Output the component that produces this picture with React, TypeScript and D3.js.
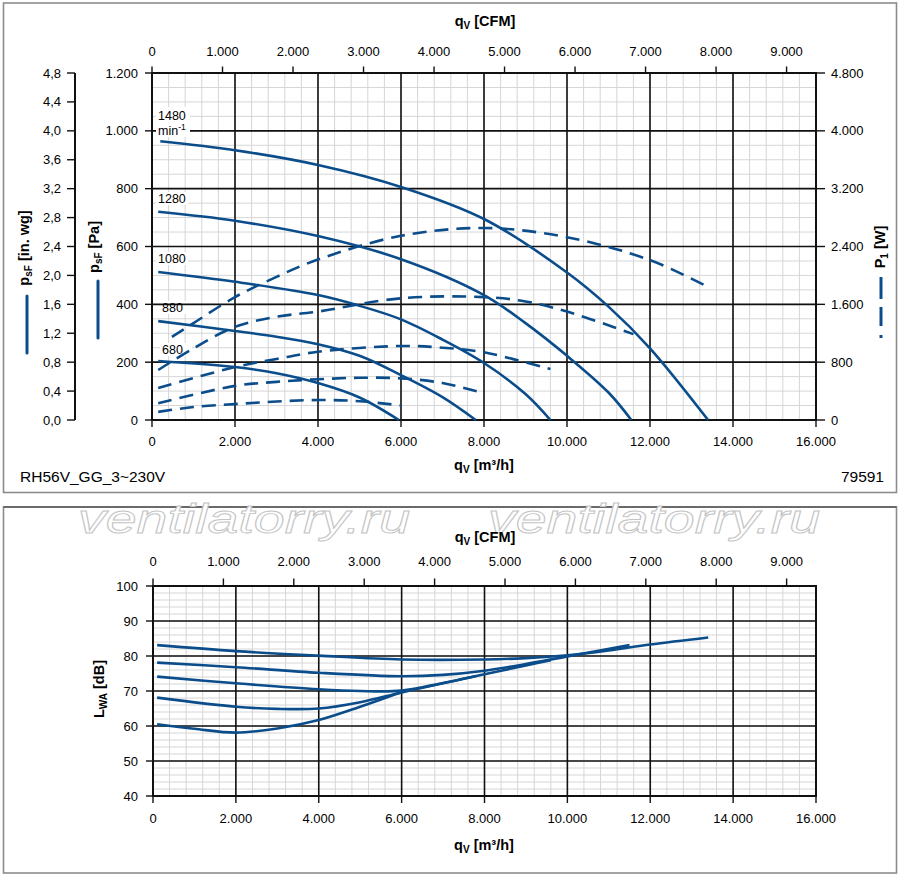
import React from 'react';
import * as d3 from 'd3';

const BLUE = '#0b4d8b';
const FONT = '"Liberation Sans", Arial, Helvetica, sans-serif';

// speed labels (min-1)
const speeds = ['1480', '1280', '1080', '880', '680'];

// static pressure p_sF [Pa] vs q_V [m³/h]
const press1480 = [[200, 964], [2000, 933], [4000, 882], [6000, 806], [8000, 695], [10000, 510], [11000, 392], [12000, 248], [13400, 0]];
const press1280 = [[150, 720], [2000, 689], [4000, 636], [6000, 556], [8000, 432], [9000, 335], [10000, 222], [11000, 95], [11550, 0]];
const press1080 = [[150, 512], [2000, 478], [4000, 432], [5000, 395], [6000, 348], [7000, 278], [8000, 197], [9000, 90], [9600, 0]];
const press880 = [[150, 342], [2000, 308], [3000, 288], [4000, 262], [5000, 222], [6000, 155], [7000, 79], [7800, 0]];
const press680 = [[150, 204], [2000, 183], [3000, 162], [4000, 128], [5000, 78], [5950, 0]];

// input power P1 [W]
const power1480 = [[480, 1150], [1000, 1340], [2000, 1700], [3000, 1980], [4000, 2220], [6000, 2548], [8000, 2656], [10000, 2528], [12000, 2212], [13400, 1840]];
const power1280 = [[150, 692], [1000, 992], [2000, 1288], [3000, 1428], [4000, 1500], [6000, 1684], [8000, 1700], [9000, 1640], [10000, 1500], [11600, 1188]];
const power1080 = [[150, 444], [2000, 732], [3000, 844], [4000, 944], [6000, 1024], [7000, 1000], [8000, 936], [9600, 704]];
const power880 = [[150, 232], [2000, 472], [3000, 528], [4000, 564], [5000, 584], [6000, 576], [7000, 512], [7850, 392]];
const power680 = [[150, 112], [1000, 180], [2000, 220], [3000, 256], [4000, 276], [5000, 260], [6000, 200]];

// sound power L_WA [dB]
const lwa1480 = [[100, 83.1], [2000, 81.4], [4000, 80.1], [6000, 79.0], [8000, 79.0], [9000, 79.4], [10000, 80.2], [11000, 81.6], [12000, 83.3], [13400, 85.3]];
const lwa1280 = [[100, 78.1], [2000, 76.8], [4000, 75.2], [6000, 74.2], [7000, 74.6], [8000, 75.8], [9000, 77.7], [10000, 79.9], [11500, 83.1]];
const lwa1080 = [[100, 74.1], [2000, 72.2], [4000, 70.5], [5000, 70.0], [6000, 70.1], [7000, 72.3], [8000, 74.8], [9000, 77.3], [9600, 78.8]];
const lwa880 = [[100, 68.1], [2000, 65.5], [3000, 64.9], [4000, 65.0], [5000, 66.8], [6000, 69.6], [7000, 72.2], [7800, 74.3]];
const lwa680 = [[100, 60.5], [1000, 59.2], [2000, 58.1], [3000, 59.3], [4000, 61.7], [5000, 65.5], [5950, 69.5]];

const pressure = [press1480, press1280, press1080, press880, press680];
const power = [power1480, power1280, power1080, power880, power680];
const lwa = [lwa1480, lwa1280, lwa1080, lwa880, lwa680];

// ticks
const flowTicks = [0, 2000, 4000, 6000, 8000, 10000, 12000, 14000, 16000];
const cfmTicks = [0, 1000, 2000, 3000, 4000, 5000, 6000, 7000, 8000, 9000];
const paTicks = [0, 200, 400, 600, 800, 1000, 1200];
const inwgTicks = [0, 0.4, 0.8, 1.2, 1.6, 2.0, 2.4, 2.8, 3.2, 3.6, 4.0, 4.4, 4.8];
const wattTicks = [0, 800, 1600, 2400, 3200, 4000, 4800];
const dbTicks = [40, 50, 60, 70, 80, 90, 100];

const CFM = 1.699; // m³/h per CFM

const loc = d3.formatLocale({ decimal: ',', thousands: '.', grouping: [3], currency: ['', ''] });
const fInt = loc.format(',.0f');
const fDec = loc.format('.1f');

const Grid = ({ x, y, xMinor, yMinor }: any) => {
  const [x0, x1] = x.range();
  const [y0, y1] = y.range();
  return (
    <g>
      {d3.range(x.domain()[0], x.domain()[1] + 1, xMinor).map((v: number) => (
        <line key={'vx' + v} x1={x(v)} x2={x(v)} y1={y0} y2={y1} stroke="#d6d6d6" strokeWidth={1} />
      ))}
      {d3.range(y.domain()[0], y.domain()[1] + 0.001, yMinor).map((v: number) => (
        <line key={'hy' + v} x1={x0} x2={x1} y1={y(v)} y2={y(v)} stroke="#d6d6d6" strokeWidth={1} />
      ))}
    </g>
  );
};

const Major = ({ x, y, xt, yt }: any) => {
  const [x0, x1] = x.range();
  const [y0, y1] = y.range();
  return (
    <g stroke="#111" strokeWidth={1.6}>
      {xt.map((v: number) => <line key={'mx' + v} x1={x(v)} x2={x(v)} y1={y0} y2={y1} />)}
      {yt.map((v: number) => <line key={'my' + v} x1={x0} x2={x1} y1={y(v)} y2={y(v)} />)}
      <rect x={x0} y={y1} width={x1 - x0} height={y0 - y1} fill="none" strokeWidth={2} />
    </g>
  );
};

const App: React.FC = () => {
  // upper chart
  const xq = d3.scaleLinear().domain([0, 16000]).range([152, 816]);
  const xc = d3.scaleLinear().domain([0, 16000 / CFM]).range([152, 816]);
  const yPa = d3.scaleLinear().domain([0, 1200]).range([420, 73]);
  const yIn = d3.scaleLinear().domain([0, 4.8]).range([420, 73]);
  const yW = d3.scaleLinear().domain([0, 4800]).range([420, 73]);

  // lower chart
  const xq2 = d3.scaleLinear().domain([0, 16000]).range([153, 816]);
  const xc2 = d3.scaleLinear().domain([0, 16000 / CFM]).range([153, 816]);
  const yDb = d3.scaleLinear().domain([40, 100]).range([796, 586]);

  const curve = d3.curveCatmullRom.alpha(0.5);
  const linePa = d3.line<number[]>().x(d => xq(d[0])).y(d => yPa(d[1])).curve(curve);
  const lineW = d3.line<number[]>().x(d => xq(d[0])).y(d => yW(d[1])).curve(curve);
  const lineDb = d3.line<number[]>().x(d => xq2(d[0])).y(d => yDb(d[1])).curve(curve);

  const labelPos = [
    { x: 158, y: 120 },
    { x: 158, y: 203 },
    { x: 158, y: 263 },
    { x: 162, y: 312 },
    { x: 162, y: 354 },
  ];

  const tick = 13;

  return (
    <svg width={900} height={879} style={{ position: 'absolute', left: 0, top: 0, background: '#fff' }}
      fontFamily={FONT}>
      <rect x={0} y={0} width={900} height={879} fill="#fff" />

      {/* panel frames */}
      <rect x={3.5} y={3} width={893} height={489.5} fill="none" stroke="#8c8c8c" strokeWidth={1.6} />
      <rect x={3.5} y={507} width={893} height={366} fill="none" stroke="#8c8c8c" strokeWidth={1.6} />
      <line x1={3.5} x2={896.5} y1={507} y2={507} stroke="#333" strokeWidth={1} />

      {/* ========== upper chart ========== */}
      <Grid x={xq} y={yPa} xMinor={400} yMinor={50} />

      {/* curve label backgrounds */}
      <rect x={156} y={107} width={34} height={30} fill="#fff" />
      {labelPos.slice(1).map((p, i) => (
        <rect key={'lb' + i} x={p.x - 2} y={p.y - 11} width={32} height={13} fill="#fff" />
      ))}

      <Major x={xq} y={yPa} xt={flowTicks} yt={paTicks} />
      <rect x={156} y={124} width={34} height={13} fill="#fff" />

      {/* top CFM axis */}
      <text x={485} y={26} textAnchor="middle" fontWeight="bold" fontSize={14.5}>
        q<tspan fontSize={10} dy={3}>V</tspan><tspan dy={-3}> [CFM]</tspan>
      </text>
      {cfmTicks.map(v => (
        <g key={'c' + v}>
          <line x1={xc(v)} x2={xc(v)} y1={73} y2={66.5} stroke="#111" strokeWidth={1.4} />
          <text x={xc(v)} y={55.5} textAnchor="middle" fontSize={tick}>{fInt(v)}</text>
        </g>
      ))}

      {/* bottom flow axis */}
      {flowTicks.map(v => (
        <g key={'f' + v}>
          <line x1={xq(v)} x2={xq(v)} y1={420} y2={427} stroke="#111" strokeWidth={1.4} />
          <text x={xq(v)} y={446} textAnchor="middle" fontSize={tick}>{fInt(v)}</text>
        </g>
      ))}
      <text x={484} y={470} textAnchor="middle" fontWeight="bold" fontSize={14.5}>
        q<tspan fontSize={10} dy={3}>V</tspan><tspan dy={-3}> [m³/h]</tspan>
      </text>

      {/* Pa axis */}
      {paTicks.map(v => (
        <g key={'p' + v}>
          <line x1={145} x2={152} y1={yPa(v)} y2={yPa(v)} stroke="#111" strokeWidth={1.4} />
          <text x={138} y={yPa(v)} dy="0.35em" textAnchor="end" fontSize={tick}>{fInt(v)}</text>
        </g>
      ))}

      {/* in. wg axis */}
      <line x1={75} x2={75} y1={73} y2={420} stroke="#111" strokeWidth={2} />
      {inwgTicks.map(v => (
        <g key={'i' + v}>
          <line x1={67} x2={75} y1={yIn(v)} y2={yIn(v)} stroke="#111" strokeWidth={1.4} />
          <text x={61} y={yIn(v)} dy="0.35em" textAnchor="end" fontSize={tick}>{fDec(v)}</text>
        </g>
      ))}

      {/* W axis */}
      {wattTicks.map(v => (
        <g key={'w' + v}>
          <line x1={816} x2={825} y1={yW(v)} y2={yW(v)} stroke="#111" strokeWidth={1.4} />
          <text x={831} y={yW(v)} dy="0.35em" textAnchor="start" fontSize={tick}>{fInt(v)}</text>
        </g>
      ))}

      {/* axis titles with legend marks */}
      <text transform="translate(29,248) rotate(-90)" textAnchor="middle" fontWeight="bold" fontSize={14.5}>
        p<tspan fontSize={10} dy={3}>sF</tspan><tspan dy={-3}> [in. wg]</tspan>
      </text>
      <line x1={27} x2={27} y1={296} y2={353} stroke={BLUE} strokeWidth={3} strokeLinecap="round" />
      <text transform="translate(99,247) rotate(-90)" textAnchor="middle" fontWeight="bold" fontSize={14.5}>
        p<tspan fontSize={10} dy={3}>sF</tspan><tspan dy={-3}> [Pa]</tspan>
      </text>
      <line x1={98} x2={98} y1={281} y2={338} stroke={BLUE} strokeWidth={3} strokeLinecap="round" />
      <text transform="translate(885,247) rotate(-90)" textAnchor="middle" fontWeight="bold" fontSize={14.5}>
        P<tspan fontSize={10} dy={3}>1</tspan><tspan dy={-3}> [W]</tspan>
      </text>
      <g stroke={BLUE} strokeWidth={3}>
        <line x1={881} x2={881} y1={277} y2={299} />
        <line x1={881} x2={881} y1={307} y2={326} />
        <line x1={881} x2={881} y1={335} y2={338} />
      </g>

      {/* curves */}
      {pressure.map((d, i) => (
        <path key={'pc' + i} d={linePa(d) || ''} fill="none" stroke={BLUE} strokeWidth={2.6} />
      ))}
      {power.map((d, i) => (
        <path key={'wc' + i} d={lineW(d) || ''} fill="none" stroke={BLUE} strokeWidth={2.6} strokeDasharray="14 8" />
      ))}

      {/* speed labels */}
      {speeds.map((s, i) => (
        <text key={'sl' + s} x={labelPos[i].x} y={labelPos[i].y} fontSize={12.5}>{s}</text>
      ))}
      <text x={158} y={135} fontSize={12.5}>min<tspan fontSize={8.5} dy={-5}>-1</tspan></text>

      <text x={20} y={482} fontSize={15.5}>RH56V_GG_3~230V</text>
      <text x={884} y={482} fontSize={15.5} textAnchor="end">79591</text>

      {/* watermark */}
      {[244, 654].map(cx => (
        <text key={'wm' + cx} x={cx} y={533} textAnchor="middle" fontSize={40} fontStyle="italic"
          fill="#fff" stroke="#c4c4c4" strokeWidth={0.9} textLength={332} lengthAdjust="spacingAndGlyphs">
          ventilatorry.ru
        </text>
      ))}

      {/* ========== lower chart ========== */}
      <Grid x={xq2} y={yDb} xMinor={400} yMinor={2} />
      <Major x={xq2} y={yDb} xt={flowTicks} yt={dbTicks} />

      <text x={485} y={542} textAnchor="middle" fontWeight="bold" fontSize={14.5}>
        q<tspan fontSize={10} dy={3}>V</tspan><tspan dy={-3}> [CFM]</tspan>
      </text>
      {cfmTicks.map(v => (
        <g key={'c2' + v}>
          <line x1={xc2(v)} x2={xc2(v)} y1={586} y2={578.5} stroke="#111" strokeWidth={1.4} />
          <text x={xc2(v)} y={566} textAnchor="middle" fontSize={tick}>{fInt(v)}</text>
        </g>
      ))}
      {flowTicks.map(v => (
        <g key={'f2' + v}>
          <line x1={xq2(v)} x2={xq2(v)} y1={796} y2={803} stroke="#111" strokeWidth={1.4} />
          <text x={xq2(v)} y={823} textAnchor="middle" fontSize={tick}>{fInt(v)}</text>
        </g>
      ))}
      <text x={484} y={850} textAnchor="middle" fontWeight="bold" fontSize={14.5}>
        q<tspan fontSize={10} dy={3}>V</tspan><tspan dy={-3}> [m³/h]</tspan>
      </text>
      {dbTicks.map(v => (
        <g key={'d' + v}>
          <line x1={146} x2={153} y1={yDb(v)} y2={yDb(v)} stroke="#111" strokeWidth={1.4} />
          <text x={138} y={yDb(v)} dy="0.35em" textAnchor="end" fontSize={tick}>{v}</text>
        </g>
      ))}
      <text transform="translate(104,689) rotate(-90)" textAnchor="middle" fontWeight="bold" fontSize={14.5}>
        L<tspan fontSize={10} dy={3}>WA</tspan><tspan dy={-3}> [dB]</tspan>
      </text>

      {lwa.map((d, i) => (
        <path key={'lc' + i} d={lineDb(d) || ''} fill="none" stroke={BLUE} strokeWidth={2.6} />
      ))}
    </svg>
  );
};

export default App;
